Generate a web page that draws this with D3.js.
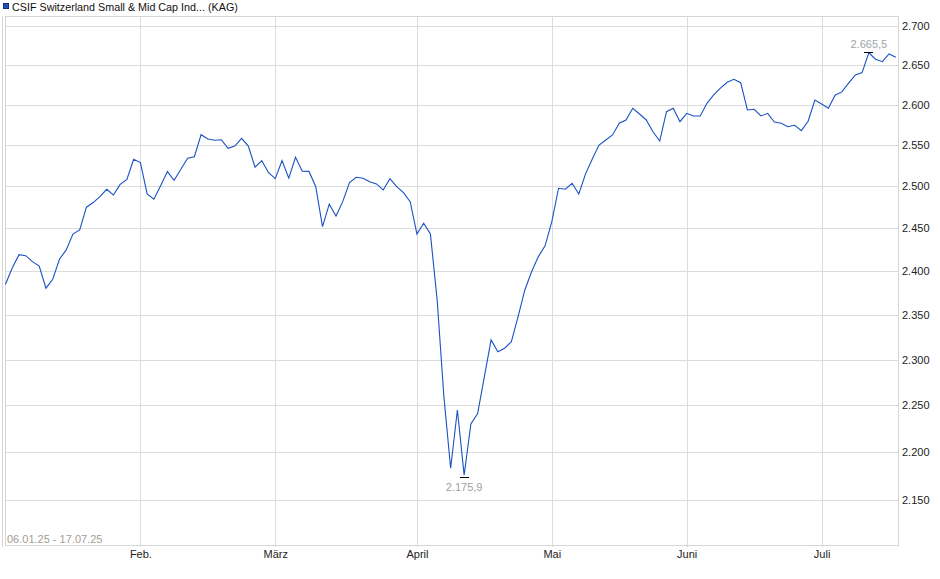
<!DOCTYPE html>
<html>
<head>
<meta charset="utf-8">
<script src="https://cdn.jsdelivr.net/npm/d3@7"></script>
<style>
  html, body { margin: 0; padding: 0; background: #fff; }
  svg { display: block; font-family: "Liberation Sans", Arial, sans-serif; }
</style>
</head>
<body>
<svg id="chart" width="940" height="579"></svg>
<script>
// ---- data ----
const title = "CSIF Switzerland Small & Mid Cap Ind... (KAG)";
const rangeLabel = "06.01.25 - 17.07.25";
const startDate = "2025-01-06";
const endDate = "2025-07-16";
const holidays = ["2025-04-18", "2025-04-21", "2025-05-01", "2025-05-29", "2025-06-09"];
const monthLabels = ["Feb.", "März", "April", "Mai", "Juni", "Juli"];
const monthNumbers = [1, 2, 3, 4, 5, 6]; // JS month index (Feb..Jul)
const values = [
  2384.9, 2403.6, 2419.1, 2417.9, 2411.0, 2405.9, 2380.4, 2390.6, 2413.8, 2424.6,
  2443.2, 2447.9, 2474.9, 2480.4, 2487.5, 2496.3, 2489.5, 2502.1, 2508.1, 2532.6,
  2528.5, 2490.7, 2484.4, 2500.6, 2517.6, 2507.1, 2520.5, 2533.8, 2535.7, 2562.6,
  2557.3, 2555.7, 2556.4, 2545.9, 2548.7, 2558.2, 2548.7, 2522.9, 2530.9, 2516.3,
  2509.1, 2530.9, 2509.6, 2535.0, 2518.0, 2517.8, 2499.4, 2451.8, 2478.5, 2464.5,
  2481.5, 2504.2, 2510.8, 2509.6, 2505.4, 2502.7, 2495.5, 2509.1, 2499.4, 2492.3,
  2481.5, 2443.2, 2455.8, 2443.2, 2367.0, 2259.5, 2183.2, 2245.1, 2175.9, 2230.1,
  2241.3, 2281.4, 2322.0, 2308.9, 2312.7, 2320.1, 2348.0, 2378.4, 2399.3, 2416.8,
  2429.3, 2457.7, 2497.5, 2496.3, 2503.5, 2490.7, 2514.8, 2532.9, 2549.9, 2556.1,
  2562.3, 2576.7, 2580.8, 2595.3, 2588.2, 2580.8, 2566.3, 2554.8, 2591.1, 2595.3,
  2578.7, 2589.1, 2585.8, 2585.8, 2601.5, 2612.0, 2620.5, 2628.0, 2631.8, 2627.5,
  2593.2, 2594.1, 2585.8, 2589.1, 2578.3, 2576.7, 2572.5, 2574.3, 2567.6, 2579.2,
  2605.7, 2600.6, 2595.3, 2611.6, 2615.8, 2626.8, 2637.2, 2640.2, 2665.5, 2657.2,
  2654.1, 2664.0, 2659.8
];
const yTicks = [2150, 2200, 2250, 2300, 2350, 2400, 2450, 2500, 2550, 2600, 2650, 2700];
const yDomain = [2104.1, 2713.0];

// ---- trading days (weekdays without exchange holidays) ----
const parseDay = d3.utcParse("%Y-%m-%d");
const fmtDay = d3.utcFormat("%Y-%m-%d");
const tradingDates = d3.utcDays(parseDay(startDate), d3.utcDay.offset(parseDay(endDate), 1))
  .filter(d => d.getUTCDay() !== 0 && d.getUTCDay() !== 6 && !holidays.includes(fmtDay(d)));
const series = tradingDates.map((d, i) => ({ date: d, key: fmtDay(d), value: values[i] }));

// ---- layout ----
const plotL = 5, plotR = 898, plotT = 16, plotB = 545;
const svg = d3.select("#chart");

const x = d3.scalePoint().domain(series.map(d => d.key)).range([5.5, 895.8]);
const y = d3.scaleLog().domain(yDomain).range([plotB, plotT]);

const deLocale = d3.formatLocale({ decimal: ",", thousands: ".", grouping: [3], currency: ["", "€"] });
const fmtInt = deLocale.format(",.0f");
const fmtDec = deLocale.format(",.1f");

// month starts: first trading day of each month
const monthTicks = monthNumbers.map((m, i) => {
  const first = series.find(d => d.date.getUTCMonth() === m);
  return { key: first.key, label: monthLabels[i] };
});

const grid = svg.append("g").attr("shape-rendering", "crispEdges");
grid.selectAll("line.h").data(yTicks).join("line")
  .attr("x1", plotL).attr("x2", plotR)
  .attr("y1", d => Math.round(y(d)) + 0.5).attr("y2", d => Math.round(y(d)) + 0.5)
  .attr("stroke", "#dcdcdc");
grid.selectAll("line.v").data(monthTicks).join("line")
  .attr("x1", d => Math.round(x(d.key)) + 0.5).attr("x2", d => Math.round(x(d.key)) + 0.5)
  .attr("y1", plotT).attr("y2", plotB + 2)
  .attr("stroke", "#dcdcdc");
grid.append("rect")
  .attr("x", plotL + 0.5).attr("y", plotT + 0.5)
  .attr("width", plotR - plotL).attr("height", plotB - plotT)
  .attr("fill", "none").attr("stroke", "#d6d6d6");
grid.append("line")
  .attr("x1", 2.5).attr("x2", 2.5).attr("y1", plotT).attr("y2", plotB + 2)
  .attr("stroke", "#d6d6d6");

// y axis labels (right)
const yAxis = d3.axisRight(y).tickValues(yTicks).tickFormat(fmtInt).tickSize(0).tickPadding(4);
const gy = svg.append("g").attr("transform", `translate(${plotR},0)`).call(yAxis);
gy.select(".domain").remove();
gy.selectAll("text").attr("fill", "#222").attr("font-size", 11)
  .attr("font-family", "'Liberation Sans', Arial, sans-serif");

// x axis labels (bottom)
const xAxis = d3.axisBottom(x).tickValues(monthTicks.map(d => d.key))
  .tickFormat(k => monthTicks.find(m => m.key === k).label).tickSize(0).tickPadding(5);
const gx = svg.append("g").attr("transform", `translate(0,${plotB})`).call(xAxis);
gx.select(".domain").remove();
gx.selectAll("text").attr("fill", "#222").attr("font-size", 11)
  .attr("font-family", "'Liberation Sans', Arial, sans-serif");

// date range label
svg.append("text").attr("x", 7).attr("y", 543)
  .attr("font-size", 11).attr("fill", "#a59c92").text(rangeLabel);

// line
const lineGen = d3.line().x(d => x(d.key)).y(d => y(d.value));
svg.append("path").datum(series)
  .attr("d", lineGen).attr("fill", "none")
  .attr("stroke", "#1a52c2").attr("stroke-width", 1.1)
  .attr("stroke-linejoin", "miter");

// min / max markers
const maxD = series.reduce((a, b) => (b.value > a.value ? b : a));
const minD = series.reduce((a, b) => (b.value < a.value ? b : a));
const mk = svg.append("g").attr("shape-rendering", "crispEdges");
mk.append("line")
  .attr("x1", x(maxD.key) - 4.5).attr("x2", x(maxD.key) + 4.5)
  .attr("y1", Math.round(y(maxD.value)) - 0.5).attr("y2", Math.round(y(maxD.value)) - 0.5)
  .attr("stroke", "#000");
mk.append("line")
  .attr("x1", x(minD.key) - 4.5).attr("x2", x(minD.key) + 4.5)
  .attr("y1", Math.round(y(minD.value)) + 2.5).attr("y2", Math.round(y(minD.value)) + 2.5)
  .attr("stroke", "#000");
svg.append("text").attr("x", x(maxD.key)).attr("y", y(maxD.value) - 5)
  .attr("text-anchor", "middle").attr("font-size", 11).attr("fill", "#a0a4ac")
  .text(fmtDec(maxD.value));
svg.append("text").attr("x", x(minD.key)).attr("y", y(minD.value) + 16)
  .attr("text-anchor", "middle").attr("font-size", 11).attr("fill", "#a0a09a")
  .text(fmtDec(minD.value));

// legend / title
svg.append("rect").attr("x", 3.5).attr("y", 3.5).attr("width", 5).attr("height", 5)
  .attr("fill", "#1a52c2").attr("stroke", "#0c2f80").attr("stroke-width", 1)
  .attr("shape-rendering", "crispEdges");
svg.append("text").attr("x", 12).attr("y", 10.5)
  .attr("font-size", 10.75).attr("fill", "#111").text(title);
</script>
</body>
</html>
